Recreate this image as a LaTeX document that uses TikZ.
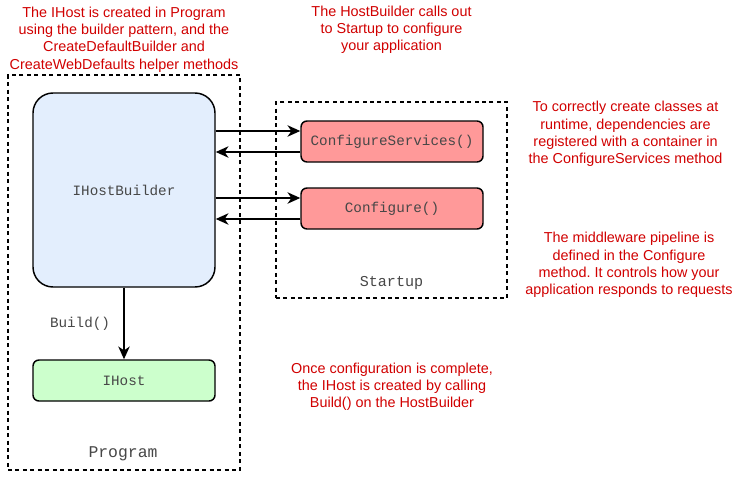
\documentclass[tikz,border=0pt]{standalone}
\usepackage{fontspec}
\setmainfont{Liberation Sans}
\newfontfamily\monof{Liberation Mono}
\usetikzlibrary{arrows.meta,calc}
\frenchspacing
\definecolor{notered}{HTML}{D10000}
\definecolor{builderfill}{HTML}{E3EEFD}
\definecolor{hostfill}{HTML}{CCFFCC}
\definecolor{startfill}{HTML}{FF9999}
\tikzset{
  note/.style={text=notered, font=\fontsize{10.8pt}{12.9pt}\selectfont, align=center, inner sep=0pt},
  frame/.style={draw, line width=1.1pt, dash pattern=on 3pt off 2.6pt},
  box/.style={draw, line width=1.1pt, rounded corners=4.5pt, minimum width=136.5pt, minimum height=30.75pt, inner sep=0pt, font=\monof\fontsize{10.7pt}{12pt}\selectfont, text=black!72},
  conn/.style={line width=1.1pt, -{Stealth[length=9.5pt,width=8.5pt,inset=2.8pt]}},
  lbl/.style={font=\monof\fontsize{10.7pt}{12pt}\selectfont, text=black!72, inner sep=0pt}
}
\begin{document}
\begin{tikzpicture}[x=0.75pt,y=-0.75pt]
\useasboundingbox (0,0) rectangle (734,478);
\fill[white] (0,0) rectangle (734,478);
% frames
\node[frame, minimum width=174pt, minimum height=296.25pt, inner sep=0pt] (prog) at (124,272.5) {};
\node[frame, minimum width=173.25pt, minimum height=147pt, inner sep=0pt] (start) at (391.5,200) {};
\node[lbl, font=\monof\fontsize{12.3pt}{14pt}\selectfont] (progl) at (123,454) {Program};
\node[lbl, font=\monof\fontsize{11.3pt}{13pt}\selectfont] (startl) at (391.5,283) {Startup};
% boxes
\node[box, fill=builderfill, rounded corners=15pt, minimum height=145.5pt] (ihb) at (124,190) {IHostBuilder};
\node[box, fill=hostfill] (ih) at (124,380.5) {IHost};
\node[box, fill=startfill] (cs) at (392,141.5) {ConfigureServices()};
\node[box, fill=startfill] (cf) at (392,208.5) {Configure()};
% connectors
\draw[conn] (ihb.east |- {$(cs.west)+(0,-10.5)$}) -- ($(cs.west)+(0,-10.5)$);
\draw[conn] ($(cs.west)+(0,10.5)$) -- (ihb.east |- {$(cs.west)+(0,10.5)$});
\draw[conn] (ihb.east |- {$(cf.west)+(0,-10.5)$}) -- ($(cf.west)+(0,-10.5)$);
\draw[conn] ($(cf.west)+(0,10.5)$) -- (ihb.east |- {$(cf.west)+(0,10.5)$});
\draw[conn] (ihb.south) -- (ih.north);
\node[lbl] (build) at (80,323.5) {Build()};
% notes
\node[note] (n1) at (124,39.5) {The IHost is created in Program\\using the builder pattern, and the\\CreateDefaultBuilder and\\CreateWebDefaults helper methods};
\node[note] (n2) at (391.5,30) {The HostBuilder calls out\\to Startup to configure\\your application};
\node[note] (n3) at (625.5,134) {To correctly create classes at\\runtime, dependencies are\\registered with a container in\\the ConfigureServices method};
\node[note] (n4) at (629,265) {The middleware pipeline is\\defined in the Configure\\method. It controls how your\\application responds to requests};
\node[note] (n5) at (392,387) {Once configuration is complete,\\the IHost is created by calling\\Build() on the HostBuilder};
\end{tikzpicture}
\end{document}
